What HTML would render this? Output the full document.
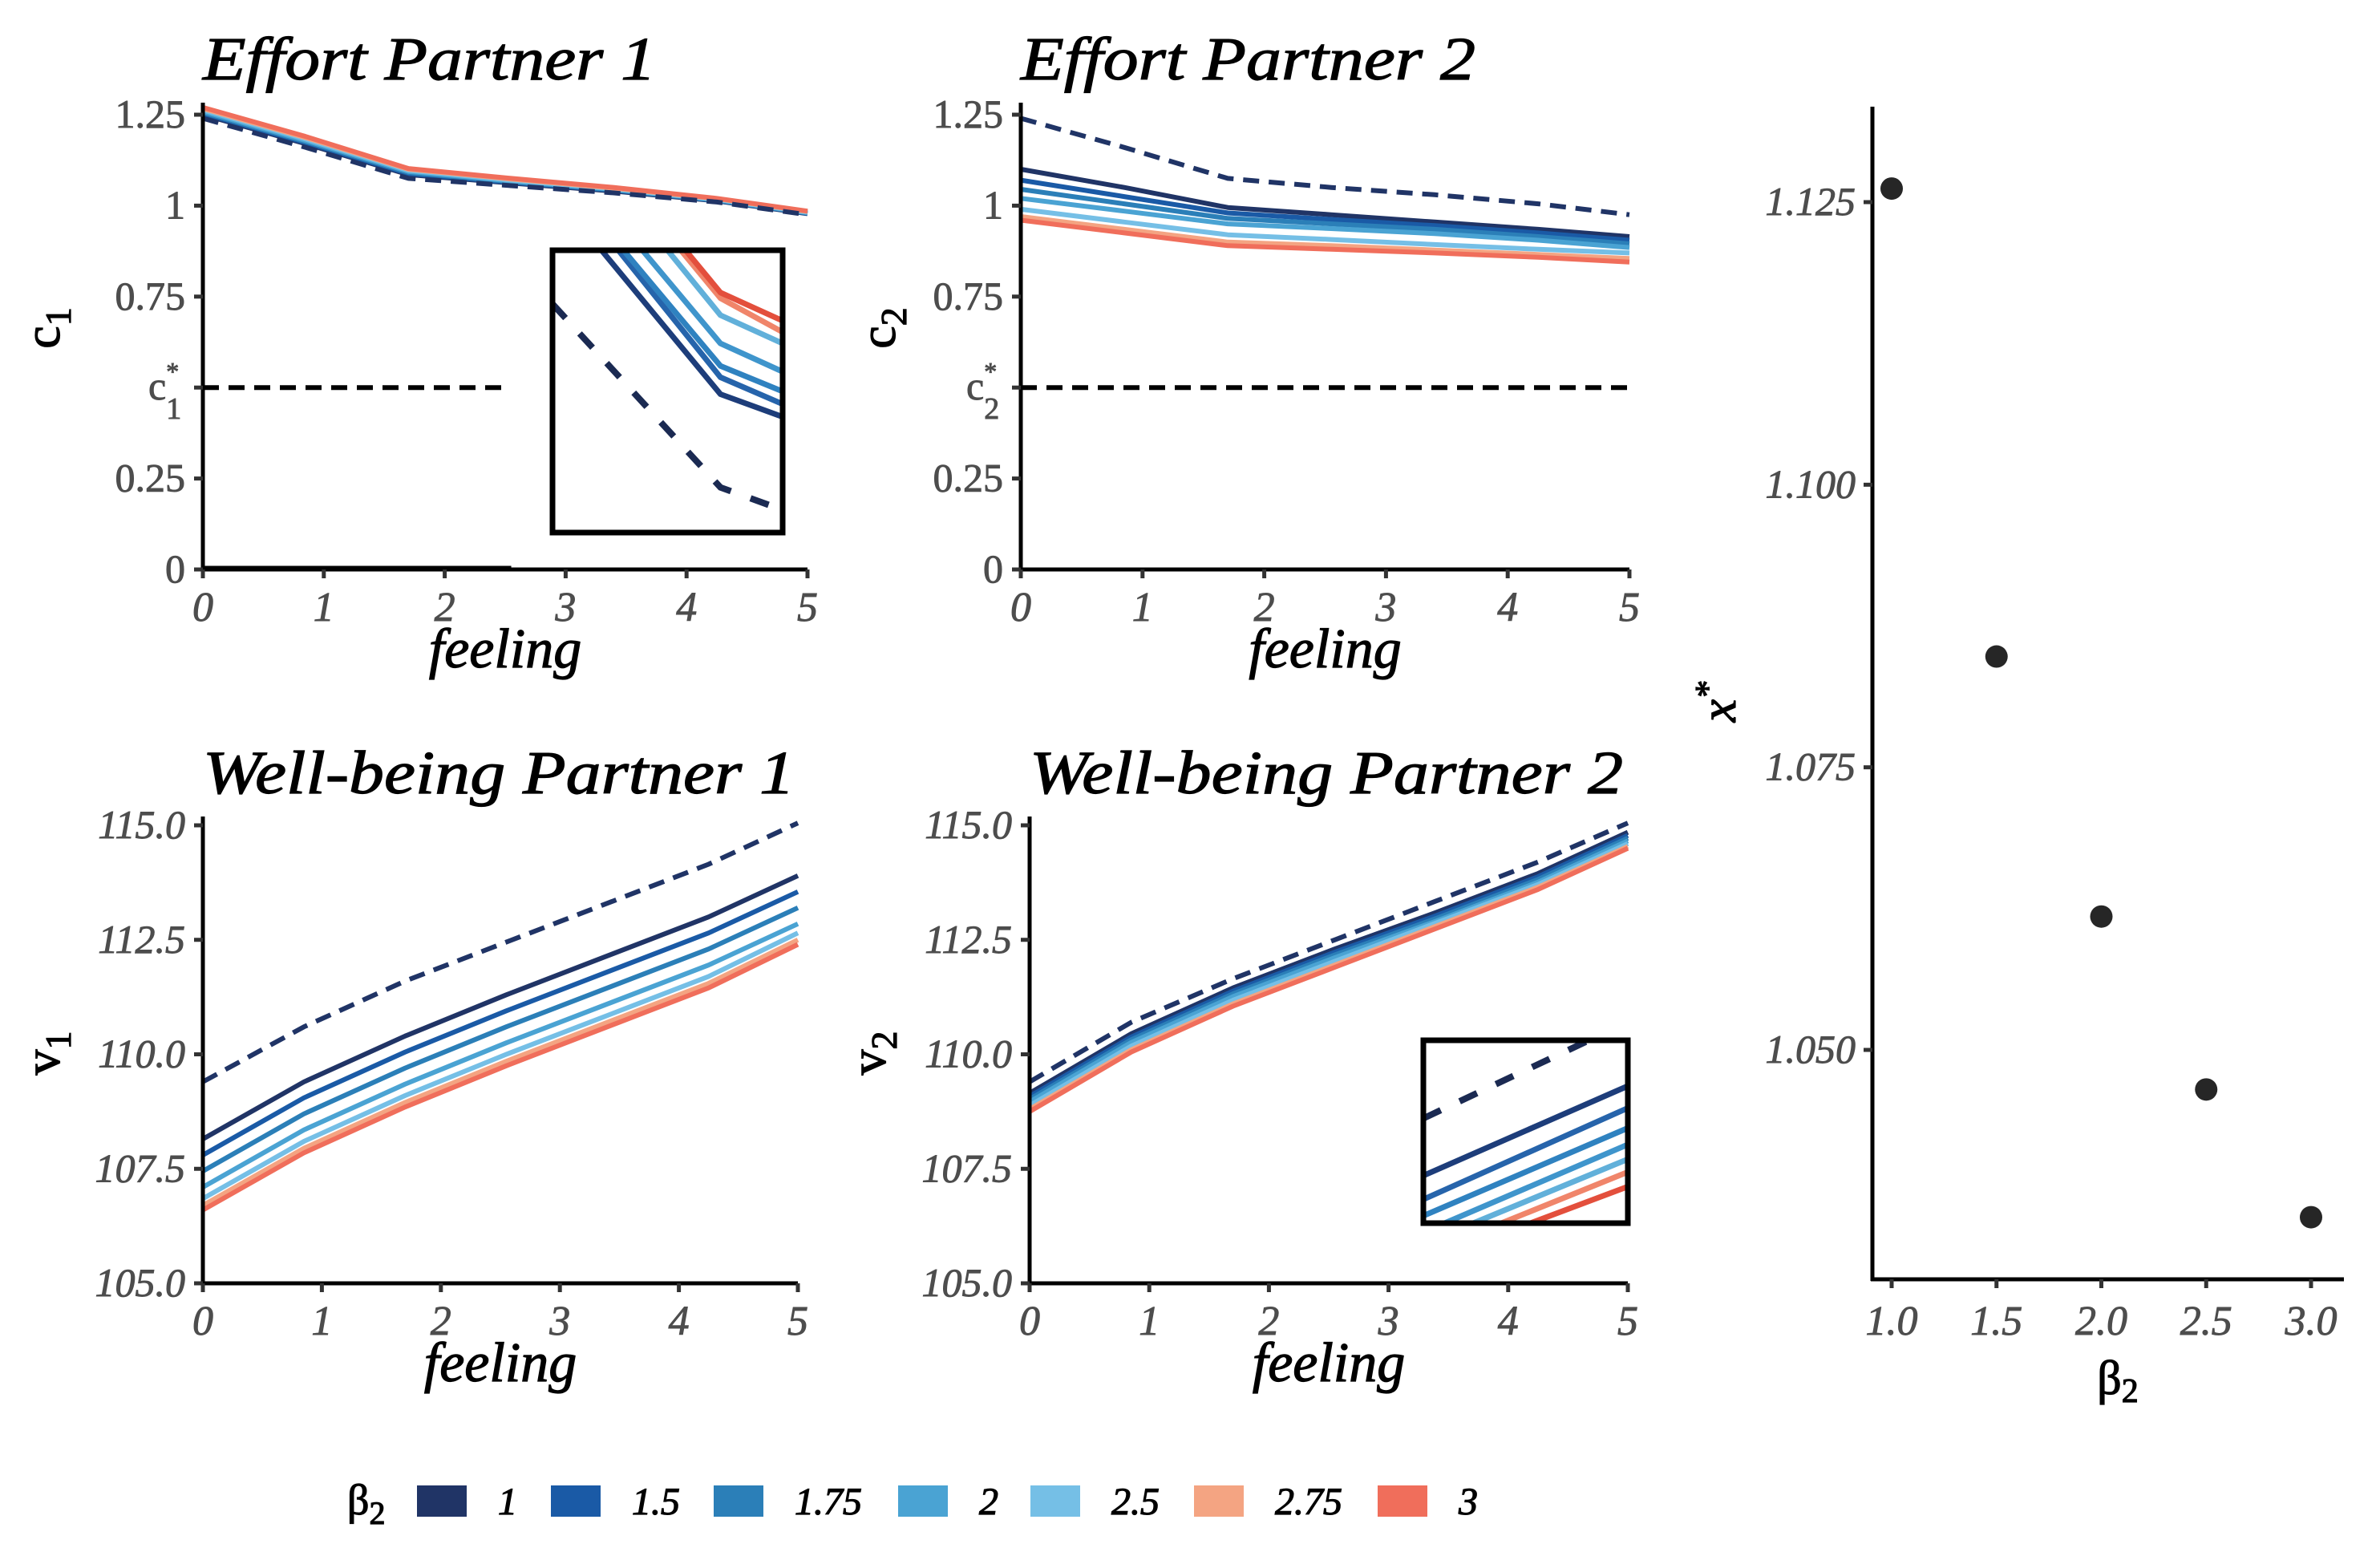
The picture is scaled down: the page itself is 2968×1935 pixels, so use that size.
<!DOCTYPE html>
<html><head><meta charset="utf-8"><style>
html,body{margin:0;padding:0;background:#fff}
svg{display:block}
text{font-family:"Liberation Serif","DejaVu Serif",serif}
.tk{stroke:#4d4d4d;stroke-width:0.9px}
.bk{stroke:#000;stroke-width:1.2px}
</style></head><body>
<svg id="fig" width="2968" height="1935" viewBox="0 0 2968 1935" xmlns="http://www.w3.org/2000/svg"></svg>
<script>
// ---------- data ----------
const feeling = [0, 0.85, 1.7, 2.55, 3.4, 4.25, 5];
const betaLabels = ["1","1.5","1.75","2","2.5","2.75","3"];
const betaColors = ["#203466","#1a5aa6","#2b7fb8","#4aa3d3","#75bfe6","#f4a482","#f06e5b"];
// Effort partner 1
const c1Dashed = [1.24, 1.16, 1.075, 1.055, 1.035, 1.01, 0.975];
const c1B1   = [1.250, 1.170, 1.085, 1.062, 1.040, 1.013, 0.978];
const c1B15  = [1.253, 1.173, 1.088, 1.064, 1.042, 1.014, 0.979];
const c1B175 = [1.256, 1.176, 1.091, 1.066, 1.043, 1.015, 0.980];
const c1B2   = [1.259, 1.179, 1.094, 1.068, 1.045, 1.016, 0.981];
const c1B25  = [1.263, 1.183, 1.097, 1.070, 1.046, 1.017, 0.982];
const c1B275 = [1.267, 1.187, 1.100, 1.073, 1.048, 1.019, 0.984];
const c1B3   = [1.270, 1.190, 1.102, 1.075, 1.050, 1.020, 0.985];
// Effort partner 2
const c2Dashed = [1.24, 1.16, 1.075, 1.05, 1.03, 1.005, 0.975];
const c2B1   = [1.10, 1.05, 0.995, 0.975, 0.955, 0.935, 0.915];
const c2B15  = [1.07, 1.025, 0.980, 0.962, 0.945, 0.925, 0.905];
const c2B175 = [1.045, 1.005, 0.965, 0.950, 0.935, 0.915, 0.895];
const c2B2   = [1.02, 0.985, 0.950, 0.937, 0.923, 0.905, 0.885];
const c2B25  = [0.99, 0.955, 0.920, 0.907, 0.893, 0.880, 0.870];
const c2B275 = [0.97, 0.935, 0.900, 0.890, 0.878, 0.866, 0.855];
const c2B3   = [0.96, 0.925, 0.890, 0.880, 0.870, 0.858, 0.845];
// Well-being partner 1
const v1Dashed = [109.4, 110.6, 111.6, 112.45, 113.3, 114.15, 115.05];
const v1B1   = [108.15, 109.4, 110.4, 111.3, 112.15, 113.0, 113.9];
const v1B15  = [107.8, 109.05, 110.05, 110.95, 111.8, 112.65, 113.55];
const v1B175 = [107.45, 108.7, 109.7, 110.6, 111.45, 112.3, 113.2];
const v1B2   = [107.1, 108.35, 109.35, 110.25, 111.1, 111.95, 112.85];
const v1B25  = [106.85, 108.1, 109.1, 110.0, 110.85, 111.7, 112.65];
const v1B275 = [106.7, 107.95, 108.95, 109.85, 110.7, 111.55, 112.5];
const v1B3   = [106.6, 107.85, 108.85, 109.75, 110.6, 111.45, 112.4];
// Well-being partner 2
const v2Dashed = [109.4, 110.7, 111.65, 112.5, 113.35, 114.2, 115.05];
const v2B1   = [109.15, 110.45, 111.45, 112.3, 113.1, 113.95, 114.85];
const v2B15  = [109.08, 110.38, 111.38, 112.23, 113.03, 113.88, 114.78];
const v2B175 = [109.02, 110.32, 111.32, 112.17, 112.97, 113.82, 114.72];
const v2B2   = [108.96, 110.26, 111.26, 112.11, 112.91, 113.76, 114.66];
const v2B25  = [108.88, 110.18, 111.18, 112.03, 112.87, 113.71, 114.6];
const v2B275 = [108.8, 110.1, 111.1, 111.95, 112.8, 113.65, 114.54];
const v2B3   = [108.75, 110.05, 111.05, 111.9, 112.75, 113.6, 114.5];
// Insets (magnified, normalised coordinates: x 0..1, y 0 top .. 1 bottom)
const inset1X = [0, 0.73, 1];
const inset1Dashed = [0.19, 0.84, 0.92];
const inset1B1 = [-0.21, 0.51, 0.59];
const inset1B15 = [-0.29, 0.45, 0.545];
const inset1B175 = [-0.30, 0.41, 0.50];
const inset1B2 = [-0.38, 0.33, 0.43];
const inset1B25 = [-0.50, 0.23, 0.33];
const inset1B275 = [-0.55, 0.17, 0.29];
const inset1B3 = [-0.57, 0.15, 0.25];
const inset4X = [0, 1];
const inset4Dashed = [0.427, -0.10];
const inset4B1 = [0.74, 0.25];
const inset4B15 = [0.87, 0.37];
const inset4B175 = [0.96, 0.48];
const inset4B2 = [1.05, 0.57];
const inset4B25 = [1.113, 0.65];
const inset4B275 = [1.173, 0.72];
const inset4B3 = [1.22, 0.80];
// Right panel
const betaValues = [1.0, 1.5, 2.0, 2.5, 3.0];
const xStar = [1.1262, 1.0848, 1.0618, 1.0465, 1.0352];
const effortTicks = [0, 0.25, 0.75, 1, 1.25];
const effortTickLabels = ["0","0.25","0.75","1","1.25"];
const wellTicks = [105, 107.5, 110, 112.5, 115];
const wellTickLabels = ["105.0","107.5","110.0","112.5","115.0"];
const feelTicks = [0,1,2,3,4,5];
const rightYTicks = [1.05, 1.075, 1.1, 1.125];
const rightYLabels = ["1.050","1.075","1.100","1.125"];
const rightXTicks = [1.0,1.5,2.0,2.5,3.0];
const rightXLabels = ["1.0","1.5","2.0","2.5","3.0"];

// ---------- helpers ----------
const NS = "http://www.w3.org/2000/svg";
const svg = document.getElementById('fig');
function mk(tag, attrs, parent){
  const e = document.createElementNS(NS, tag);
  for (const k in attrs) e.setAttribute(k, attrs[k]);
  (parent||svg).appendChild(e);
  return e;
}
function lin(d0,d1,r0,r1){ return v => r0 + (v-d0)/(d1-d0)*(r1-r0); }
let clipId = 0;

function panel(cfg){
  const g = mk('g', {});
  
  
  const sx = lin(0,5,cfg.x0,cfg.x1);
  const sy = lin(cfg.yd0,cfg.yd1,cfg.yr0,cfg.yr1);
  const t = mk('text', {x:cfg.x0, y:cfg.titleY, 'font-size':76, 'font-style':'italic', fill:'#000', 'class':'bk', textLength:cfg.titleW, lengthAdjust:'spacingAndGlyphs'}, g);
  t.textContent = cfg.title;
  
  
  cfg.series.forEach((s, i) => {
    const pts = feeling.map((f,j)=> sx(f).toFixed(1)+','+sy(s[j]).toFixed(1)).join(' ');
    const p = mk('polyline', {points:pts, fill:'none', stroke:betaColors[i], 'stroke-width':6, 'stroke-linejoin':'round'}, g);
    
    
  });
  const dpts = feeling.map((f,j)=> sx(f).toFixed(1)+','+sy(cfg.dashed[j]).toFixed(1)).join(' ');
  const dl = mk('polyline', {points:dpts, fill:'none', stroke:'#203466', 'stroke-width':6, 'stroke-dasharray':'20 12'}, g);
  
  
  if (cfg.cstar){
    const cl = mk('line', {x1:sx(0), x2:sx(cfg.cstarEnd), y1:sy(0.5), y2:sy(0.5), stroke:'#000', 'stroke-width':6, 'stroke-dasharray':'20 12'}, g);
    
    
  }
  if (cfg.zeroEnd){
    const zl = mk('line', {x1:sx(0), x2:sx(cfg.zeroEnd), y1:sy(0)-1, y2:sy(0)-1, stroke:'#000', 'stroke-width':7}, g);
    
    
  }
  const ya = mk('line', {x1:cfg.x0, x2:cfg.x0, y1:cfg.axTop, y2:cfg.yr0+2.5, stroke:'#000', 'stroke-width':5}, g);
  
  
  const xa = mk('line', {x1:cfg.x0-2.5, x2:cfg.x1, y1:cfg.yr0, y2:cfg.yr0, stroke:'#000', 'stroke-width':5}, g);
  
  
  cfg.yTicks.forEach((v,i)=>{
    const y = sy(v);
    mk('line', {x1:cfg.x0-11, x2:cfg.x0, y1:y, y2:y, stroke:'#333', 'stroke-width':5}, g);
    const tl = mk('text', {x:cfg.x0-22, y:y+16, 'font-size':50, 'text-anchor':'end', fill:'#4d4d4d', 'class':'tk', 'font-style':cfg.italicY?'italic':'normal'}, g);
    tl.textContent = cfg.yLabels[i];
    
    
  });
  if (cfg.cstar){
    const y = sy(0.5);
    mk('line', {x1:cfg.x0-11, x2:cfg.x0, y1:y, y2:y, stroke:'#333', 'stroke-width':5}, g);
    const ct = mk('text', {x:cfg.x0-68, y:y+15, 'font-size':50, fill:'#4d4d4d', 'class':'tk'}, g);
    
    
    ct.textContent = 'c';
    const sup = mk('tspan', {dy:-24, 'font-size':32}, ct); sup.textContent='*';
    const sub = mk('tspan', {dx:-16, dy:48, 'font-size':38}, ct); sub.textContent=cfg.idx;
  }
  feelTicks.forEach(v=>{
    const x = sx(v);
    mk('line', {x1:x, x2:x, y1:cfg.yr0, y2:cfg.yr0+11, stroke:'#333', 'stroke-width':5}, g);
    const tl = mk('text', {x:x, y:cfg.yr0+64, 'font-size':52, 'text-anchor':'middle', 'font-style':'italic', fill:'#4d4d4d', 'class':'tk'}, g);
    tl.textContent = String(v);
    
    
  });
  const xl = mk('text', {x:(cfg.x0+cfg.x1)/2, y:cfg.yr0+122, 'font-size':70, 'text-anchor':'middle', 'font-style':'italic', fill:'#000', 'class':'bk'}, g);
  xl.textContent = 'feeling';
  
  
  const yl = mk('text', {transform:`translate(${cfg.yLabX},${cfg.yLabY}) rotate(-90)`, 'font-size':64, 'text-anchor':'middle', fill:'#000', 'class':'bk'}, g);
  
  
  yl.textContent = cfg.yVar;
  const ys = mk('tspan', {dy:14, 'font-size':46}, yl); ys.textContent = cfg.idx;
  if (cfg.inset){
    const ins = cfg.inset;
    const ig = mk('g', {}, g);
    
    
    const id = 'clip' + (clipId++);
    const cp = mk('clipPath', {id:id}, ig);
    mk('rect', {x:ins.x, y:ins.y, width:ins.w, height:ins.h}, cp);
    mk('rect', {x:ins.x, y:ins.y, width:ins.w, height:ins.h, fill:'#fff'}, ig);
    const cg = mk('g', {'clip-path':`url(#${id})`}, ig);
    const ix = v => ins.x + v*ins.w, iy = v => ins.y + v*ins.h;
    ins.series.forEach((s,i)=>{
      const pts = ins.xs.map((f,j)=> ix(f).toFixed(1)+','+iy(s[j]).toFixed(1)).join(' ');
      const p = mk('polyline', {points:pts, fill:'none', stroke:ins.colors[i], 'stroke-width':7, 'stroke-linejoin':'round'}, cg);
      
      
    });
    const pts = ins.xs.map((f,j)=> ix(f).toFixed(1)+','+iy(ins.dashed[j]).toFixed(1)).join(' ');
    const dp = mk('polyline', {points:pts, fill:'none', stroke:'#1b2a52', 'stroke-width':8, 'stroke-dasharray':'24 26'}, cg);
    
    
    mk('rect', {x:ins.x, y:ins.y, width:ins.w, height:ins.h, fill:'none', stroke:'#000', 'stroke-width':7}, ig);
  }
}
const insetColors = ["#1d3d7a","#2664ab","#2f82c0","#3f95cc","#61b0da","#f0856a","#e34f3c"];

panel({name:'effort-partner-1-panel', title:'Effort Partner 1', titleW:565, titleY:99, x0:253, x1:1007, yd0:0, yd1:1.25, yr0:710, yr1:143, axTop:128,
  series:[c1B1,c1B15,c1B175,c1B2,c1B25,c1B275,c1B3], dashed:c1Dashed, yTicks:effortTicks, yLabels:effortTickLabels, italicY:false,
  cstar:true, cstarEnd:2.48, zeroEnd:2.55, idx:'1', yVar:'c', yLabX:74, yLabY:409,
  inset:{x:689,y:312,w:287,h:352, xs:inset1X, dashed:inset1Dashed, series:[inset1B1,inset1B15,inset1B175,inset1B2,inset1B25,inset1B275,inset1B3], colors:insetColors}});
panel({name:'effort-partner-2-panel', title:'Effort Partner 2', titleW:567, titleY:99, x0:1273, x1:2032, yd0:0, yd1:1.25, yr0:710, yr1:143, axTop:128,
  series:[c2B1,c2B15,c2B175,c2B2,c2B25,c2B275,c2B3], dashed:c2Dashed, yTicks:effortTicks, yLabels:effortTickLabels, italicY:false,
  cstar:true, cstarEnd:5, idx:'2', yVar:'c', yLabX:1116, yLabY:409});
panel({name:'wellbeing-partner-1-panel', title:'Well-being Partner 1', titleW:738, titleY:989, x0:253, x1:995, yd0:105, yd1:115, yr0:1600, yr1:1029, axTop:1018,
  series:[v1B1,v1B15,v1B175,v1B2,v1B25,v1B275,v1B3], dashed:v1Dashed, yTicks:wellTicks, yLabels:wellTickLabels, italicY:true,
  idx:'1', yVar:'v', yLabX:74, yLabY:1313});
panel({name:'wellbeing-partner-2-panel', title:'Well-being Partner 2', titleW:740, titleY:989, x0:1284, x1:2030, yd0:105, yd1:115, yr0:1600, yr1:1029, axTop:1018,
  series:[v2B1,v2B15,v2B175,v2B2,v2B25,v2B275,v2B3], dashed:v2Dashed, yTicks:wellTicks, yLabels:wellTickLabels, italicY:true,
  idx:'2', yVar:'v', yLabX:1104, yLabY:1313,
  inset:{x:1775,y:1297,w:255,h:228, xs:inset4X, dashed:inset4Dashed, series:[inset4B1,inset4B15,inset4B175,inset4B2,inset4B25,inset4B275,inset4B3], colors:insetColors}});

// ---------- right panel ----------
(function(){
  const g = mk('g', {});
  
  
  const sx = lin(1,3,2359,2882);
  const sy = lin(1.05,1.125,1309,252);
  const ya = mk('line', {x1:2335, x2:2335, y1:133, y2:1597, stroke:'#000', 'stroke-width':5}, g);
  
  
  const xa = mk('line', {x1:2333, x2:2923, y1:1595, y2:1595, stroke:'#000', 'stroke-width':5}, g);
  
  
  rightYTicks.forEach((v,i)=>{
    const y = sy(v);
    mk('line', {x1:2324, x2:2335, y1:y, y2:y, stroke:'#333', 'stroke-width':5}, g);
    const t = mk('text', {x:2314, y:y+16, 'font-size':50, 'text-anchor':'end', 'font-style':'italic', fill:'#4d4d4d', 'class':'tk'}, g);
    t.textContent = rightYLabels[i];
    
    
  });
  rightXTicks.forEach((v,i)=>{
    const x = sx(v);
    mk('line', {x1:x, x2:x, y1:1595, y2:1606, stroke:'#333', 'stroke-width':5}, g);
    const t = mk('text', {x:x, y:1664, 'font-size':52, 'text-anchor':'middle', 'font-style':'italic', fill:'#4d4d4d', 'class':'tk'}, g);
    t.textContent = rightXLabels[i];
    
    
  });
  betaValues.forEach((b,i)=>{
    const c = mk('circle', {cx:sx(b), cy:sy(xStar[i]), r:14, fill:'#262626'}, g);
    
    
  });
  const xl = mk('text', {x:2641, y:1738, 'font-size':60, 'text-anchor':'middle', fill:'#000', 'class':'bk'}, g);
  
  
  xl.textContent = 'β';
  const s = mk('tspan', {dy:10, 'font-size':42}, xl); s.textContent='2';
  const yl = mk('text', {transform:'translate(2164,875) rotate(-90)', 'font-size':64, 'text-anchor':'middle', 'font-style':'italic', fill:'#000', 'class':'bk'}, g);
  
  
  yl.textContent = 'x';
  const s2 = mk('tspan', {dy:-20, 'font-size':44}, yl); s2.textContent='*';
})();

// ---------- legend ----------
(function(){
  const g = mk('g', {});
  
  
  const tt = mk('text', {x:433, y:1888, 'font-size':54, fill:'#000', 'class':'bk'}, g);
  
  
  tt.textContent = 'β';
  const s = mk('tspan', {dy:12, 'font-size':40}, tt); s.textContent='2';
  const swX = [520, 687, 890, 1120, 1285, 1489, 1718];
  betaLabels.forEach((lab,i)=>{
    const eg = mk('g', {}, g);
    
    
    mk('rect', {x:swX[i], y:1852, width:62, height:39, fill:betaColors[i]}, eg);
    const t = mk('text', {x:swX[i]+101, y:1888, 'font-size':48, 'font-style':'italic', fill:'#000', 'class':'bk'}, eg);
    t.textContent = lab;
  });
})();
</script>
</body></html>
